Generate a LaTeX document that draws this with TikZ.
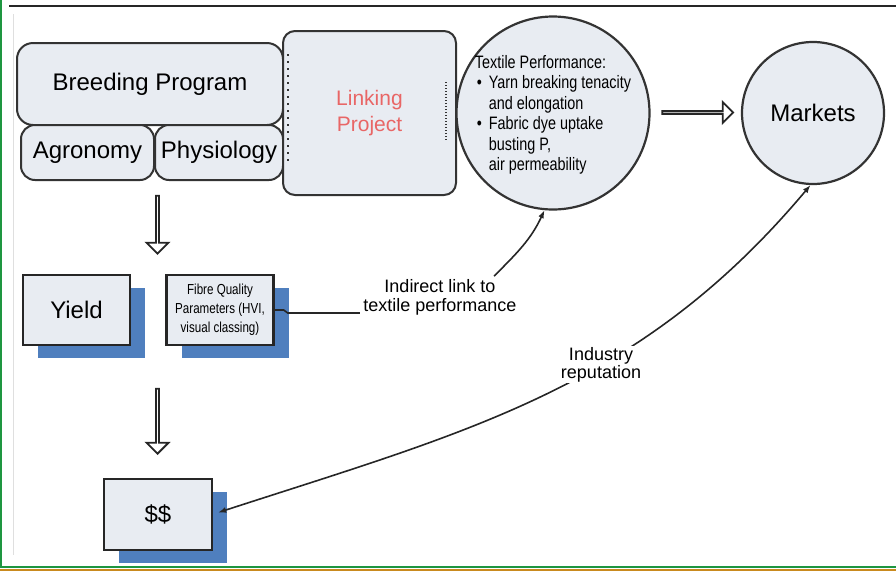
\documentclass[tikz,border=0pt]{standalone}
\usepackage{fontspec}
\setmainfont{Liberation Sans}
\newfontfamily\schmal[FakeStretch=0.8]{Liberation Sans}
\usepackage{tikz}
\usetikzlibrary{arrows.meta}
\usetikzlibrary{shadows}
\usetikzlibrary{shapes.arrows}
\definecolor{kastenblau}{HTML}{E8ECF2}
\definecolor{schattenblau}{HTML}{4F7FBE}
\definecolor{randgrau}{HTML}{333333}
\definecolor{linkrot}{HTML}{E86666}
\definecolor{rahmengruen}{HTML}{1E9640}
\definecolor{rahmenorange}{HTML}{C98A1E}
\tikzset{
  Kasten/.style={draw=randgrau, line width=2pt, fill=kastenblau, rounded corners=#1,
    inner sep=0pt, font=\fontsize{24}{28}\selectfont}, % Kästen oben
  Kasten/.default=12pt,
  SKasten/.style={draw=black!85, line width=2.4pt, fill=kastenblau, inner sep=0pt,
    minimum width=107pt, minimum height=70pt, font=\fontsize{24}{28}\selectfont,
    drop shadow={shadow xshift=15pt, shadow yshift=-13pt, fill=schattenblau, opacity=1}}, % Kästen mit Schatten
  Kreis/.style={circle, draw=randgrau, line width=2.2pt, fill=kastenblau, inner sep=0pt,
    font=\fontsize{24}{28}\selectfont},
  Blockpfeil/.style={single arrow, draw=black!85, line width=1.8pt, fill=white, inner sep=0pt,
    minimum width=22pt, single arrow head extend=6pt, rotate=#1}, % für Blockpfeile
  Blockpfeil/.default=0,
  Verbinder/.style={draw=black!85, line width=1.6pt} % für Verbindungslinien
}

\begin{document}
\begin{tikzpicture}[x=1pt, y=1pt,
font=\fontsize{18}{19}\selectfont,
>={Latex[length=8pt,width=6pt]} % Voreinstellung für Pfeilspitzen
]
\useasboundingbox (0,0) rectangle (896,-571);

%Rahmen
\draw[line width=1.5pt, black!85] (9,-6) -- (896,-6);
\draw[gray!25, line width=1pt] (13,-14) -- (13,-555);
\draw[rahmengruen, line width=1.5pt] (1,0) -- (1,-567) -- (896,-567);
\fill[rahmenorange] (0,-568.5) rectangle (896,-571);

%Kästen oben
\node[Kasten=16pt, minimum width=266pt, minimum height=82pt] (zucht) at (150,-84) {Breeding Program};
\node[Kasten=14pt, minimum width=133pt, minimum height=55pt] (agronomie) at (87.5,-152.5) {Agronomy};
\node[Kasten=14pt, minimum width=128pt, minimum height=55pt] (physiologie) at (219,-152.5) {Physiology};
\node[Kasten=12pt, minimum width=173pt, minimum height=164pt, text=linkrot, align=center,
  font=\fontsize{21}{26}\selectfont] (projekt) at (369.5,-113) {Linking\\Project};
\draw[randgrau, line width=1.6pt, dash pattern=on 1.5pt off 5.5pt]
  ([xshift=6pt,yshift=-24pt]projekt.north west) -- ([xshift=6pt,yshift=35pt]projekt.south west);
\draw[randgrau, line width=1.6pt, dash pattern=on 1pt off 2pt]
  ([xshift=-11pt,yshift=-52pt]projekt.north east) -- ([xshift=-11pt,yshift=55pt]projekt.south east);

%Kreise
\node[Kreis, minimum size=193pt] (textil) at (553,-113) {};
\node[align=left, font=\schmal\fontsize{18}{20.5}\selectfont] (leistung) at ([yshift=-2pt]textil.center)
  {Textile Performance:\\
   \hspace*{2pt}\makebox[12pt][l]{\textbullet}Yarn breaking tenacity\\
   \hspace*{14pt}and elongation\\
   \hspace*{2pt}\makebox[12pt][l]{\textbullet}Fabric dye uptake\\
   \hspace*{14pt}busting P,\\
   \hspace*{14pt}air permeability};
\node[Kreis, minimum size=142pt] (maerkte) at (813,-113) {Markets};

%Kästen mit Schatten
\node[SKasten] (ertrag) at (76.5,-310) {Yield};
\node[SKasten, align=center, font=\schmal\fontsize{14.5}{19}\selectfont] (faser) at (220,-310)
  {Fibre Quality\\Parameters (HVI,\\visual classing)};
\node[SKasten, minimum width=108pt, minimum height=71pt] (geld) at (158,-514.5) {\$\$};

%Blockpfeile
\node[Blockpfeil=-90, minimum height=58pt] (pfeil1) at (157.5,-224) {};
\node[Blockpfeil=-90, minimum height=65pt] (pfeil2) at (157.5,-420.5) {};
\node[Blockpfeil, minimum height=71pt, minimum width=21pt] (pfeil3) at (697,-112.5) {};

%Verbindungen
\node[align=center] (indirekt) at (440,-297.5) {Indirect link to\\textile performance};
\draw[Verbinder] (faser.east) -- ++(9,0) -- ++(4,-3) coordinate (knick) -- (knick -| indirekt.west);
\draw[Verbinder, ->] ([xshift=-26pt]indirekt.north east) to[out=45, in=-115] (textil.-95);
\draw[Verbinder, <->] ([xshift=5pt,yshift=2pt]geld.east) to[out=18, in=-130]
  node[pos=0.6, fill=white, align=center, inner sep=1pt, font=\fontsize{18}{18}\selectfont] (ruf) {Industry\\reputation}
  (maerkte.-92);

\end{tikzpicture}
\end{document}
